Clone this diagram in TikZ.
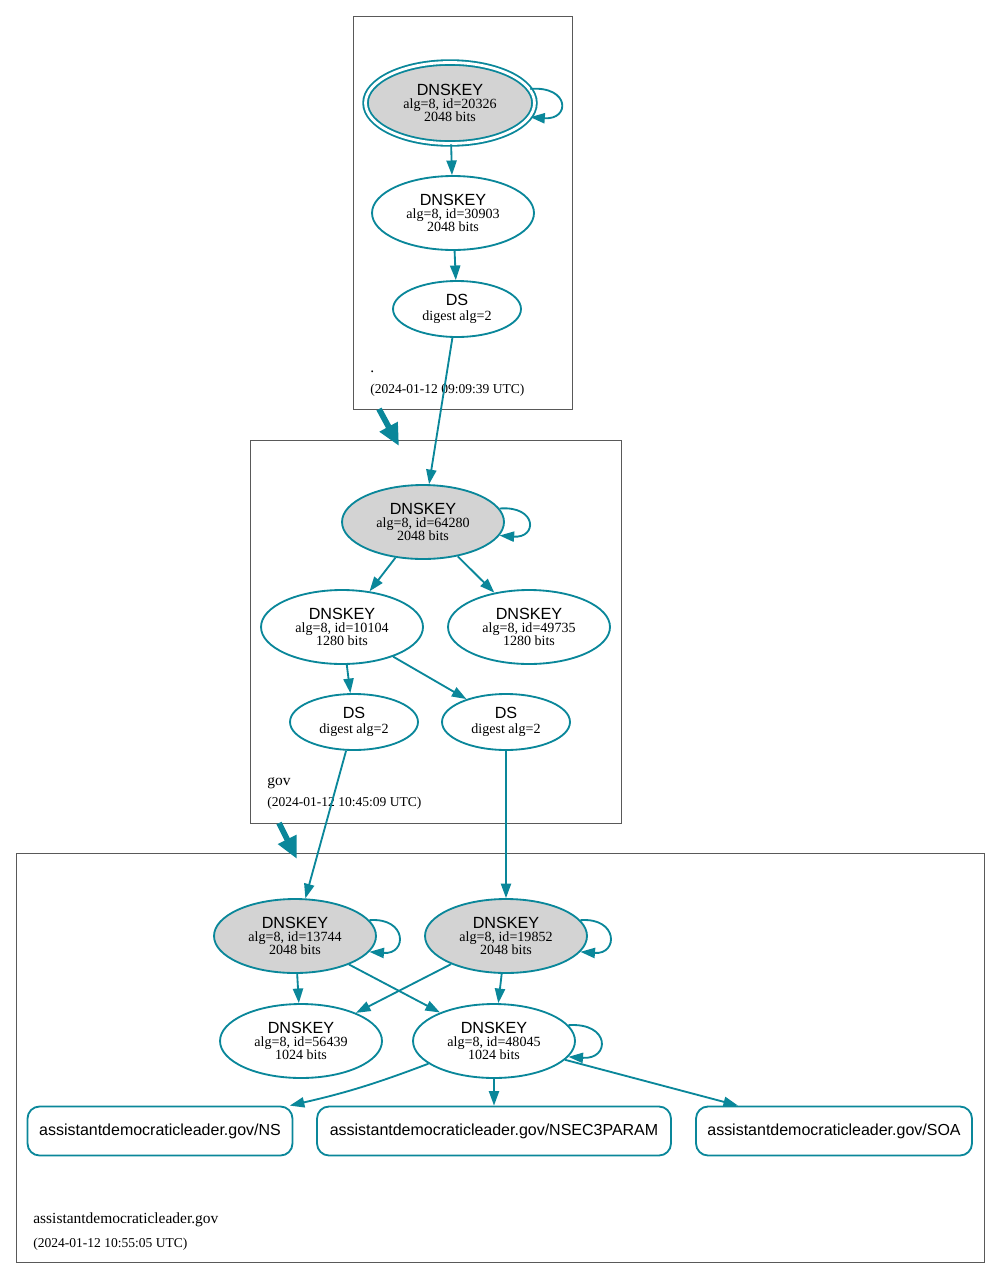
\documentclass[tikz,border=0pt]{standalone}
\usepackage{fontspec}
\setmainfont{Liberation Serif}
\setsansfont{Liberation Sans}
\usetikzlibrary{shapes.geometric, arrows.meta}
\definecolor{secure}{HTML}{0A879A}
\definecolor{kskgray}{HTML}{D3D3D3}
\tikzset{>={Triangle[length=8.3pt,width=5.8pt]}}
\tikzset{
  key/.style={ellipse, draw=secure, line width=1.05pt, inner sep=0pt,
    minimum width=3.24cm, minimum height=1.48cm, align=center,
    font=\fontsize{8}{7.4}\selectfont},
  ksk/.style={key, fill=kskgray},
  dsnode/.style={key, minimum width=2.56cm, minimum height=1.12cm},
  rrset/.style={rectangle, rounded corners=0.24cm, draw=secure, line width=1.05pt,
    minimum height=0.98cm, inner sep=0pt, font=\sffamily\fontsize{9.1}{11}\selectfont},
  edge/.style={->, draw=secure, line width=1.05pt},
  deleg/.style={-{Triangle[length=12.5pt,width=11pt]}, draw=secure, line width=3.3pt},
  zone/.style={draw=black!65, line width=0.5pt},
  zonename/.style={anchor=base west, inner sep=0pt, font=\fontsize{8.8}{10}\selectfont},
  zonedate/.style={anchor=base west, inner sep=0pt, font=\fontsize{7.7}{9}\selectfont}
}
\newcommand{\keylbl}[2]{{\sffamily\fontsize{9.2}{7.4}\selectfont DNSKEY}\\alg=8, id=#1\\#2 bits}
\newcommand{\dslbl}{{\sffamily\fontsize{9.2}{7.4}\selectfont DS}\\[0.8pt]digest alg=2}

\begin{document}
\begin{tikzpicture}[x=0.02cm, y=-0.02cm]
\useasboundingbox (0,0) rectangle (1000,1278);

% zones
\draw[zone] (353,16) rectangle (572,409);
\draw[zone] (250,440) rectangle (621,823);
\draw[zone] (16,853) rectangle (984,1262);

\node[zonename] (rootname) at (370,372) {.};
\node[zonedate] (rootdate) at (370,393) {(2024-01-12 09:09:39 UTC)};
\node[zonename] (govname) at (267,785) {gov};
\node[zonedate] (govdate) at (267,806) {(2024-01-12 10:45:09 UTC)};
\node[zonename] (leadername) at (33,1223) {assistantdemocraticleader.gov};
\node[zonedate] (leaderdate) at (33,1247) {(2024-01-12 10:55:05 UTC)};

% root
\node[ksk, double=white, double distance=1.6pt, minimum width=3.38cm, minimum height=1.62cm]
  (k20326) at (450,103) {\keylbl{20326}{2048}};
\node[key] (k30903) at (453,213) {\keylbl{30903}{2048}};
\node[dsnode] (dsroot) at (457,309) {\dslbl};

% gov
\node[ksk] (k64280) at (423,522) {\keylbl{64280}{2048}};
\node[key] (k10104) at (342,627) {\keylbl{10104}{1280}};
\node[key] (k49735) at (529,627) {\keylbl{49735}{1280}};
\node[dsnode] (dsgova) at (354,722) {\dslbl};
\node[dsnode] (dsgovb) at (506,722) {\dslbl};

% assistantdemocraticleader.gov
\node[ksk] (k13744) at (295,936) {\keylbl{13744}{2048}};
\node[ksk] (k19852) at (506,936) {\keylbl{19852}{2048}};
\node[key] (k56439) at (301,1041) {\keylbl{56439}{1024}};
\node[key] (k48045) at (494,1041) {\keylbl{48045}{1024}};
\node[rrset, minimum width=5.3cm] (ns) at (160,1131) {assistantdemocraticleader.gov/NS};
\node[rrset, minimum width=7.08cm] (nsec3param) at (494,1131) {assistantdemocraticleader.gov/NSEC3PARAM};
\node[rrset, minimum width=5.52cm] (soa) at (834,1131) {assistantdemocraticleader.gov/SOA};

% delegations
\coordinate (rootout) at (379,409);
\coordinate (govin) at (399,446);
\coordinate (govout) at (279,823);
\coordinate (leaderin) at (297,859);
\draw[deleg] (rootout) -- (govin);
\draw[deleg] (govout) -- (leaderin);

% self signatures
\draw[edge] (k20326.10) .. controls +(40,-3) and +(40,3) .. (k20326.-10);
\draw[edge] (k64280.10) .. controls +(38,-3) and +(38,3) .. (k64280.-10);
\draw[edge] (k13744.12) .. controls +(38,-3) and +(38,3) .. (k13744.-12);
\draw[edge] (k19852.12) .. controls +(38,-3) and +(38,3) .. (k19852.-12);
\draw[edge] (k48045.12) .. controls +(42,-3) and +(42,3) .. (k48045.-12);

% signatures and digests
\draw[edge] (k20326) -- (k30903);
\draw[edge] (k30903) -- (dsroot);
\draw[edge] (dsroot) -- (k64280);
\draw[edge] (k64280) -- (k10104);
\draw[edge] (k64280) -- (k49735);
\draw[edge] (k10104) -- (dsgova);
\draw[edge] (k10104) -- (dsgovb);
\draw[edge] (dsgova) -- (k13744);
\draw[edge] (dsgovb) -- (k19852);
\draw[edge] (k13744) -- (k56439);
\draw[edge] (k13744) -- (k48045);
\draw[edge] (k19852) -- (k56439);
\draw[edge] (k19852) -- (k48045);
\draw[edge] (k48045) to[bend left=4] (ns);
\draw[edge] (k48045) -- (nsec3param);
\draw[edge] (k48045) -- (soa);
\end{tikzpicture}
\end{document}
